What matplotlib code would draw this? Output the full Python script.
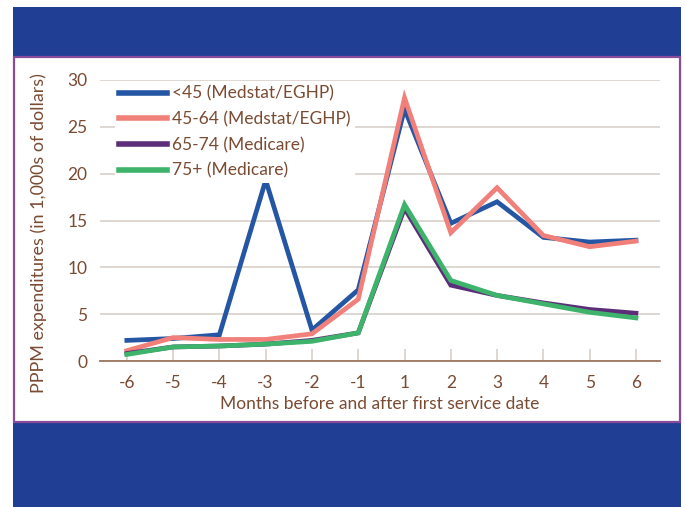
import matplotlib
matplotlib.use("Agg")
import matplotlib.pyplot as plt
from matplotlib.patches import Rectangle

months = ["-6", "-5", "-4", "-3", "-2", "-1", "1", "2", "3", "4", "5", "6"]
under45 = [2.2, 2.4, 2.8, 19.3, 3.3, 7.6, 26.9, 14.7, 17.0, 13.2, 12.7, 12.9]
age45_64 = [1.1, 2.5, 2.3, 2.3, 2.9, 6.6, 28.1, 13.7, 18.5, 13.4, 12.2, 12.8]
age65_74 = [0.8, 1.5, 1.6, 1.8, 2.2, 3.0, 16.3, 8.1, 7.0, 6.2, 5.5, 5.1]
age75p = [0.7, 1.5, 1.6, 1.8, 2.1, 3.0, 16.7, 8.6, 7.0, 6.1, 5.2, 4.6]
series_labels = ["<45 (Medstat/EGHP)", "45-64 (Medstat/EGHP)", "65-74 (Medicare)", "75+ (Medicare)"]
series_colors = ["#2456a4", "#f08079", "#5c2d78", "#3db36b"]
yticks = [0, 5, 10, 15, 20, 25, 30]

plt.rcParams['font.family'] = ['Lato', 'DejaVu Sans']
TXT = "#7a4b32"
FS = 12.5

W, H = 685, 507
fig = plt.figure(figsize=(W / 100, H / 100), dpi=100)
fig.patch.set_facecolor("white")

def fx(px):
    return px / W

def fy(py):
    return 1 - py / H

# blue background and white panel
fig.patches.append(Rectangle((fx(13), fy(507)), fx(681) - fx(13), fy(7) - fy(507),
                             transform=fig.transFigure, facecolor="#213e95", edgecolor="none", zorder=-3))
fig.patches.append(Rectangle((fx(14), fy(422)), fx(680) - fx(14), fy(57) - fy(422),
                             transform=fig.transFigure, facecolor="white", edgecolor="#8a4b9a",
                             linewidth=1.6, zorder=-2))

ax = fig.add_axes([fx(100), fy(361), fx(660) - fx(100), fy(80) - fy(361)])
ax.set_zorder(5)
ax.set_facecolor("none")
x = list(range(len(months)))
for vals, lab, col in zip([under45, age45_64, age65_74, age75p], series_labels, series_colors):
    ax.plot(x, vals, color=col, linewidth=3.4, label=lab, solid_joinstyle="miter", zorder=3, clip_on=False)

ax.set_xlim(-0.58, 11.52)
ax.set_ylim(0, 30)
ax.set_xticks(x)
ax.set_xticklabels(months)
ax.set_yticks(yticks)
ax.set_yticklabels([str(v) for v in yticks])
ax.grid(axis="y", color="#d9d0c8", linewidth=1.2, zorder=0)
ax.set_axisbelow(True)
for s in ["left", "right", "top"]:
    ax.spines[s].set_visible(False)
ax.spines["bottom"].set_color("#9c7560")
ax.spines["bottom"].set_linewidth(1.3)
ax.tick_params(axis="x", direction="in", length=9, color="#d9d0c8", width=1.2,
               labelsize=FS, labelcolor=TXT, pad=10)
ax.tick_params(axis="y", length=0, labelsize=FS, labelcolor=TXT, pad=9)

ax.set_xlabel("Months before and after first service date", fontsize=FS, color=TXT, labelpad=4)
ax.set_ylabel("PPPM expenditures (in 1,000s of dollars)", fontsize=12.9, color=TXT)
ax.yaxis.set_label_coords(-0.095, 0.455)

leg = ax.legend(loc="upper left", bbox_to_anchor=(0.027, 0.995), frameon=True, fontsize=FS,
                handlelength=2.75, handletextpad=0.3, labelspacing=0.55, borderpad=0.25,
                borderaxespad=0.0)
leg.get_frame().set_facecolor("white")
leg.get_frame().set_edgecolor("none")
leg.get_frame().set_alpha(1)
for t in leg.get_texts():
    t.set_color(TXT)
for h in leg.get_lines():
    h.set_linewidth(4)

fig.savefig("out.png", dpi=100)
